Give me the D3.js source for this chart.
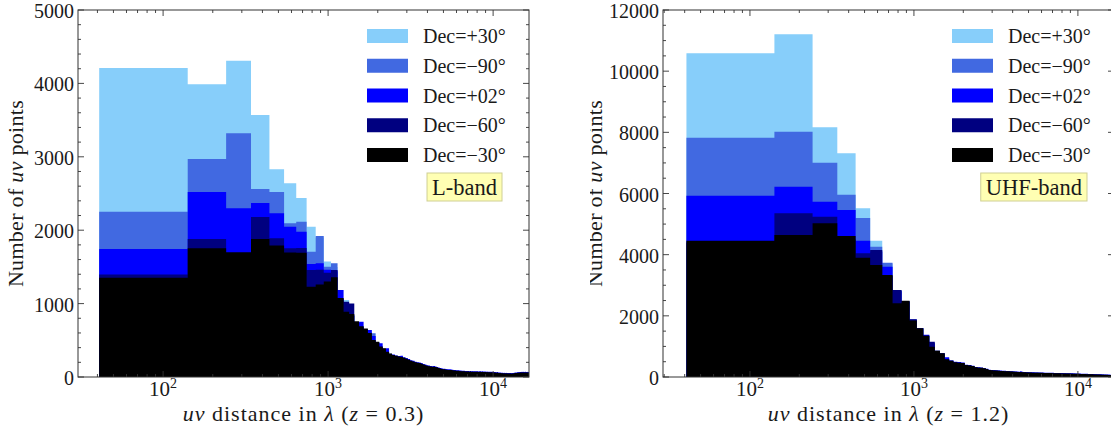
<!DOCTYPE html>
<html>
<head>
<meta charset="utf-8">
<script src="https://cdn.jsdelivr.net/npm/d3@7"></script>
<style>
  body { margin: 0; background: #fff; }
  svg { display: block; }
  text { font-family: "Liberation Serif", "DejaVu Serif", serif; fill: #1a1a1a; }
</style>
</head>
<body>
<svg id="fig" width="1111" height="430"></svg>
<script>
// Histogram bins in uv distance (wavelengths): fixed-width linear bins
const binStart = 41;
const binWidth = 100;

const seriesNames  = ["Dec=+30°", "Dec=\u221290°", "Dec=+02°", "Dec=\u221260°", "Dec=\u221230°"];
const seriesColors = ["#87cefa", "#4169e1", "#0000ff", "#000080", "#000000"];

const xTickValues = [100, 1000, 10000];
const xTickExponents = ["2", "3", "4"];

// ---- L-band (z = 0.3) counts per bin ----
const lband_p30 = [4210,3990,4310,3570,2830,2640,2440,2048,1900,1575,
 1500,1050,1049,840,730,690,645,612,560,472,
 418,380,348,316,296,286,276,268,258,246,
 232,216,206,196,191,186,178,168,156,148,
 144,138,134,136,131,124,118,111,106,102,
 100,96,94,93,92,91,89,86,84,82,
 81,80,78,76,75,74,73,72,71,72,
 70,69,70,68,69,67,68,66,67,68,
 66,65,67,66,64,66,65,63,64,65,
 62,63,61,62,60,61,59,60,58,59,
 57,56,58,55,54,56,53,52,51,50,
 49,48,47,46,47,45,46,44,45,46,
 44,45,43,44,42,43,44,42,43,41,
 42,43,44,46,48,49,51,50,52,53,
 54,53,55,56,54,57,56,58,57,56,
 58,57,59,58,56,57,59,58,56,57,
 58,56,57,55,56];
const lband_m90 = [2250,2970,3320,2560,2520,2094,2116,1707,1920,1503,
 1549,1060,1000,830,720,690,640,610,595,475,
 420,385,350,318,298,288,278,270,262,248,
 234,218,208,198,193,188,180,170,158,150,
 146,140,136,138,133,126,120,113,108,104,
 102,98,96,95,94,93,91,88,86,84,
 83,82,80,78,77,76,75,74,73,74,
 72,71,72,70,71,69,70,68,69,70,
 68,67,69,68,66,68,67,65,66,67,
 64,65,63,64,62,63,61,62,60,61,
 59,58,60,57,56,58,55,54,53,52,
 51,50,49,48,49,47,48,46,47,48,
 46,47,45,46,44,45,46,44,45,43,
 44,45,46,48,50,51,53,52,54,55,
 56,55,57,58,56,59,58,60,59,58,
 60,59,61,60,58,59,61,60,58,59,
 60,58,59,57,58];
const lband_p02 = [1745,2520,2300,2370,2230,2048,1980,1540,1550,1460,
 1440,1185,1000,840,740,754,650,640,560,470,
 459,380,390,315,305,292,285,290,270,258,
 245,228,222,208,200,198,190,178,170,160,
 156,150,146,150,142,136,130,124,118,114,
 112,108,105,104,104,102,100,97,95,93,
 92,91,89,87,86,85,84,83,82,83,
 81,80,82,79,80,78,79,77,78,80,
 77,76,78,77,75,77,76,74,75,76,
 73,74,72,73,71,72,70,71,69,70,
 68,67,69,66,65,67,64,63,62,61,
 60,59,58,57,58,56,57,55,56,57,
 55,56,54,55,53,54,55,53,54,52,
 53,54,55,57,59,60,62,61,63,64,
 66,65,67,68,66,69,68,70,69,68,
 70,69,71,70,68,69,71,70,68,69,
 70,68,69,67,68];
const lband_m60 = [1395,1880,1640,2180,1890,1753,1757,1458,1460,1420,
 1458,1070,1026,1000,740,680,650,590,500,470,
 410,385,340,315,295,285,275,268,258,245,
 232,216,206,196,192,186,178,168,157,149,
 145,139,135,137,132,125,119,112,107,103,
 101,97,95,94,93,92,90,87,85,83,
 82,81,79,77,76,75,74,73,72,73,
 71,70,71,69,70,68,69,67,68,69,
 67,66,68,67,65,67,66,64,65,66,
 63,64,62,63,61,62,60,61,59,60,
 58,57,59,56,55,57,54,53,52,51,
 50,49,48,47,48,46,47,45,46,47,
 45,46,44,45,43,44,45,43,44,42,
 43,44,45,47,49,50,52,51,53,54,
 55,54,56,57,55,58,57,59,58,57,
 59,58,60,59,57,58,60,59,57,58,
 59,57,58,56,57];
const lband_m30 = [1353,1755,1700,1880,1790,1696,1694,1230,1260,1300,
 1360,1075,890,860,760,690,660,600,505,480,
 415,390,345,320,300,290,280,272,262,250,
 235,220,210,200,195,190,182,172,160,152,
 148,142,138,140,135,128,122,115,110,106,
 104,100,98,97,96,95,93,90,88,86,
 85,84,82,80,79,78,77,76,75,76,
 74,73,74,72,73,71,72,70,71,72,
 70,69,71,70,68,70,69,67,68,69,
 66,67,65,66,64,65,63,64,62,63,
 61,60,62,59,58,60,57,56,55,54,
 53,52,51,50,51,49,50,48,49,50,
 48,49,47,48,46,47,48,46,47,45,
 46,47,48,50,52,53,55,54,56,57,
 58,57,59,60,58,61,60,62,61,60,
 62,61,63,62,60,61,63,62,60,61,
 62,60,61,59,60];

// ---- UHF-band (z = 1.2) counts per bin ----
const uhf_p30 = [10585,11207,8164,7314,5515,4458,3700,2830,2480,1870,
 1588,1348,1090,853,770,590,530,476,466,456,
 388,376,356,316,301,296,286,256,225,218,
 211,206,201,196,192,188,184,180,176,172,
 169,166,163,160,157,154,151,148,146,144,
 142,140,139,138,137,136,135,134,133,132,
 131,130,129,128,127,126,125,124,123,122,
 121,120,119,118,117,116,116,115,114,114,
 113,112,112,111,110,110,109,108,108,107,
 106,106,105,104,104,103,102,102,101,100,
 99,99,98,97,96,96,95,94,93,93,
 92,91,90,90,89,88,87,87,86,85,
 84,84,83,82,81,81,80,79,79,78,
 77,77,76,75,75,74,74,73,72,72,
 71,71,70,70,69,69,68,68,67,67,
 66,66,65,65,64,64,63,63,62,62,
 62,61,61,60,60];
const uhf_m90 = [7826,8023,7009,5960,5199,4262,3738,2820,2470,1860,
 1590,1350,1100,855,772,600,532,478,468,458,
 390,378,358,318,303,298,288,258,227,220,
 213,208,203,198,194,190,186,182,178,174,
 171,168,165,162,159,156,153,150,148,146,
 144,142,141,140,139,138,137,136,135,134,
 133,132,131,130,129,128,127,126,125,124,
 123,122,121,120,119,118,118,117,116,116,
 115,114,114,113,112,112,111,110,110,109,
 108,108,107,106,106,105,104,104,103,102,
 101,101,100,99,98,98,97,96,95,95,
 94,93,92,92,91,90,89,89,88,87,
 86,86,85,84,83,83,82,81,81,80,
 79,79,78,77,77,76,76,75,74,74,
 73,73,72,72,71,71,70,70,69,69,
 68,68,67,67,66,66,65,65,64,64,
 64,63,63,62,62];
const uhf_p02 = [5930,6224,5734,5461,4458,4100,3607,2800,2450,1880,
 1605,1380,1100,850,780,643,540,500,490,475,
 400,392,368,330,315,308,298,268,238,232,
 226,220,214,210,206,202,198,194,190,186,
 183,180,177,174,185,168,165,162,160,158,
 156,154,153,152,151,150,149,148,147,146,
 145,144,143,142,141,140,139,138,137,136,
 135,134,133,132,131,130,130,129,128,128,
 127,126,126,125,124,124,123,122,122,121,
 120,120,119,118,118,117,116,116,115,114,
 113,113,112,111,110,110,109,108,107,107,
 106,105,104,104,103,102,101,101,100,99,
 98,98,97,96,95,95,94,93,93,92,
 91,91,90,89,89,88,88,87,86,86,
 85,85,84,84,83,83,82,82,81,81,
 80,80,79,79,78,78,77,77,76,76,
 76,75,75,74,74];
const uhf_m60 = [4400,5353,5243,4500,4045,4153,3300,2845,2480,1890,
 1585,1345,1155,855,770,575,530,476,466,455,
 388,376,356,316,301,296,286,256,225,218,
 211,206,201,196,192,188,184,180,176,172,
 169,166,163,160,157,154,151,148,146,144,
 142,140,139,138,137,136,135,134,133,132,
 131,130,129,128,127,126,125,124,123,122,
 121,120,119,118,117,116,116,115,114,114,
 113,112,112,111,110,110,109,108,108,107,
 106,106,105,104,104,103,102,102,101,100,
 99,99,98,97,96,96,95,94,93,93,
 92,91,90,90,89,88,87,87,86,85,
 84,84,83,82,81,81,80,79,79,78,
 77,77,76,75,75,74,74,73,72,72,
 71,71,70,70,69,69,68,68,67,67,
 66,66,65,65,64,64,63,63,62,62,
 62,61,61,60,60];
const uhf_m30 = [4458,4643,5025,4611,3900,3663,3335,2410,2495,1850,
 1592,1352,990,861,774,578,534,480,470,460,
 392,380,360,320,305,300,290,260,229,222,
 215,210,205,200,196,192,188,184,180,176,
 173,170,167,164,161,158,155,152,150,148,
 146,144,143,142,141,140,139,138,137,136,
 135,134,133,132,131,130,129,128,127,126,
 125,124,123,122,121,120,120,119,118,118,
 117,116,116,115,114,114,113,112,112,111,
 110,110,109,108,108,107,106,106,105,104,
 103,103,102,101,100,100,99,98,97,97,
 96,95,94,94,93,92,91,91,90,89,
 88,88,87,86,85,85,84,83,83,82,
 81,81,80,79,79,78,78,77,76,76,
 75,75,74,74,73,73,72,72,71,71,
 70,70,69,69,68,68,67,67,66,66,
 66,65,65,64,64];

const panels = [
  { left: 78, right: 529, top: 10, bottom: 377, xDomain: [30.5, 16500],
    yMax: 5000, yMajor: 1000, yMinor: 200, band: "L-band", z: "0.3",
    series: [lband_p30, lband_m90, lband_p02, lband_m60, lband_m30],
    ylabelX: 23, ylabelClip: null },
  { left: 663, right: 1114, top: 10, bottom: 377, xDomain: [29.5, 16600],
    yMax: 12000, yMajor: 2000, yMinor: 500, band: "UHF-band", z: "1.2",
    series: [uhf_p30, uhf_m90, uhf_p02, uhf_m60, uhf_m30],
    ylabelX: 602, ylabelClip: 590 }
];

const svg = d3.select("#fig");
const defs = svg.append("defs");
const axisColor = "#333";

panels.forEach((p, pi) => {
  const x = d3.scaleLog().domain(p.xDomain).range([p.left, p.right]);
  const y = d3.scaleLinear().domain([0, p.yMax]).range([p.bottom, p.top]);
  const g = svg.append("g");

  defs.append("clipPath").attr("id", "plot" + pi)
    .append("rect").attr("x", p.left).attr("y", p.top)
    .attr("width", p.right - p.left).attr("height", p.bottom - p.top);

  // filled step histograms, back to front
  const area = d3.area()
    .x(d => x(d.e)).y0(y(0)).y1(d => y(d.v))
    .curve(d3.curveStepAfter);
  const plot = g.append("g").attr("clip-path", `url(#plot${pi})`);
  p.series.forEach((vals, si) => {
    const pts = vals.map((v, i) => ({ e: binStart + binWidth * i, v }));
    pts.push({ e: binStart + binWidth * vals.length, v: vals[vals.length - 1] });
    plot.append("path").attr("d", area(pts)).attr("fill", seriesColors[si]);
  });

  // frame
  g.append("rect").attr("x", p.left).attr("y", p.top)
    .attr("width", p.right - p.left).attr("height", p.bottom - p.top)
    .attr("fill", "none").attr("stroke", axisColor).attr("stroke-width", 1);

  // y ticks (inward, both sides)
  const yMajors = d3.range(0, p.yMax + 1, p.yMajor);
  const yMinors = d3.range(0, p.yMax + 1, p.yMinor).filter(v => v % p.yMajor !== 0);
  const tk = g.append("g").attr("stroke", axisColor).attr("stroke-width", 0.9);
  yMajors.forEach(v => {
    tk.append("line").attr("x1", p.left).attr("x2", p.left + 6).attr("y1", y(v)).attr("y2", y(v));
    tk.append("line").attr("x1", p.right).attr("x2", p.right - 6).attr("y1", y(v)).attr("y2", y(v));
  });
  yMinors.forEach(v => {
    tk.append("line").attr("x1", p.left).attr("x2", p.left + 3).attr("y1", y(v)).attr("y2", y(v));
    tk.append("line").attr("x1", p.right).attr("x2", p.right - 3).attr("y1", y(v)).attr("y2", y(v));
  });
  yMajors.forEach(v => {
    g.append("text").attr("x", p.left - 4).attr("y", y(v)).attr("dy", "0.4em")
      .attr("text-anchor", "end").attr("font-size", 20).text(v);
  });

  // x ticks (log, inward, bottom and top)
  const xMinors = [];
  for (let e = 1; e <= 4; e++) for (let m = 2; m <= 9; m++) {
    const v = m * Math.pow(10, e);
    if (v > p.xDomain[0] && v < p.xDomain[1]) xMinors.push(v);
  }
  xTickValues.forEach(v => {
    tk.append("line").attr("x1", x(v)).attr("x2", x(v)).attr("y1", p.bottom).attr("y2", p.bottom - 6);
    tk.append("line").attr("x1", x(v)).attr("x2", x(v)).attr("y1", p.top).attr("y2", p.top + 6);
  });
  xMinors.forEach(v => {
    tk.append("line").attr("x1", x(v)).attr("x2", x(v)).attr("y1", p.bottom).attr("y2", p.bottom - 3);
    tk.append("line").attr("x1", x(v)).attr("x2", x(v)).attr("y1", p.top).attr("y2", p.top + 3);
  });
  xTickValues.forEach((v, i) => {
    const t = g.append("text").attr("x", x(v)).attr("y", p.bottom + 19)
      .attr("text-anchor", "middle").attr("font-size", 21);
    t.append("tspan").text("10");
    t.append("tspan").attr("font-size", 14).attr("dy", -8).text(xTickExponents[i]);
  });

  // axis labels
  const xl = g.append("text").attr("x", (p.left + p.right) / 2).attr("y", 421)
    .attr("text-anchor", "middle").attr("font-size", 22).attr("letter-spacing", 1);
  xl.append("tspan").attr("font-style", "italic").text("uv");
  xl.append("tspan").text(" distance in ");
  xl.append("tspan").attr("font-style", "italic").text("λ");
  xl.append("tspan").text(" (");
  xl.append("tspan").attr("font-style", "italic").text("z");
  xl.append("tspan").text(" = " + p.z + ")");

  const ylg = g.append("g");
  if (p.ylabelClip !== null) {
    defs.append("clipPath").attr("id", "ylab" + pi)
      .append("rect").attr("x", p.ylabelClip).attr("y", 0).attr("width", 100).attr("height", 430);
    ylg.attr("clip-path", `url(#ylab${pi})`);
  }
  const yl = ylg.append("text")
    .attr("transform", `translate(${p.ylabelX},${(p.top + p.bottom) / 2}) rotate(-90)`)
    .attr("text-anchor", "middle").attr("font-size", 22).attr("letter-spacing", 0.3);
  yl.append("tspan").text("Number of ");
  yl.append("tspan").attr("font-style", "italic").text("uv");
  yl.append("tspan").text(" points");

  // legend
  const lg = g.append("g");
  seriesNames.forEach((name, i) => {
    const cy = p.top + 26 + i * 29.75;
    lg.append("rect").attr("x", p.right - 162).attr("y", cy - 7)
      .attr("width", 41).attr("height", 14).attr("fill", seriesColors[i]);
    lg.append("text").attr("x", p.right - 106).attr("y", cy).attr("dy", "0.35em")
      .attr("font-size", 20).text(name);
  });

  // band tag
  const tag = g.append("text").attr("x", p.right - 32).attr("y", 187).attr("dy", "0.35em")
    .attr("text-anchor", "end").attr("font-size", 22.5).text(p.band);
  const bb = tag.node().getBBox();
  g.insert("rect", () => tag.node())
    .attr("x", bb.x - 5).attr("y", 173).attr("width", bb.width + 10).attr("height", 28)
    .attr("fill", "#ffffb3").attr("stroke", "#cfcf94").attr("stroke-width", 1);
});
</script>
</body>
</html>
